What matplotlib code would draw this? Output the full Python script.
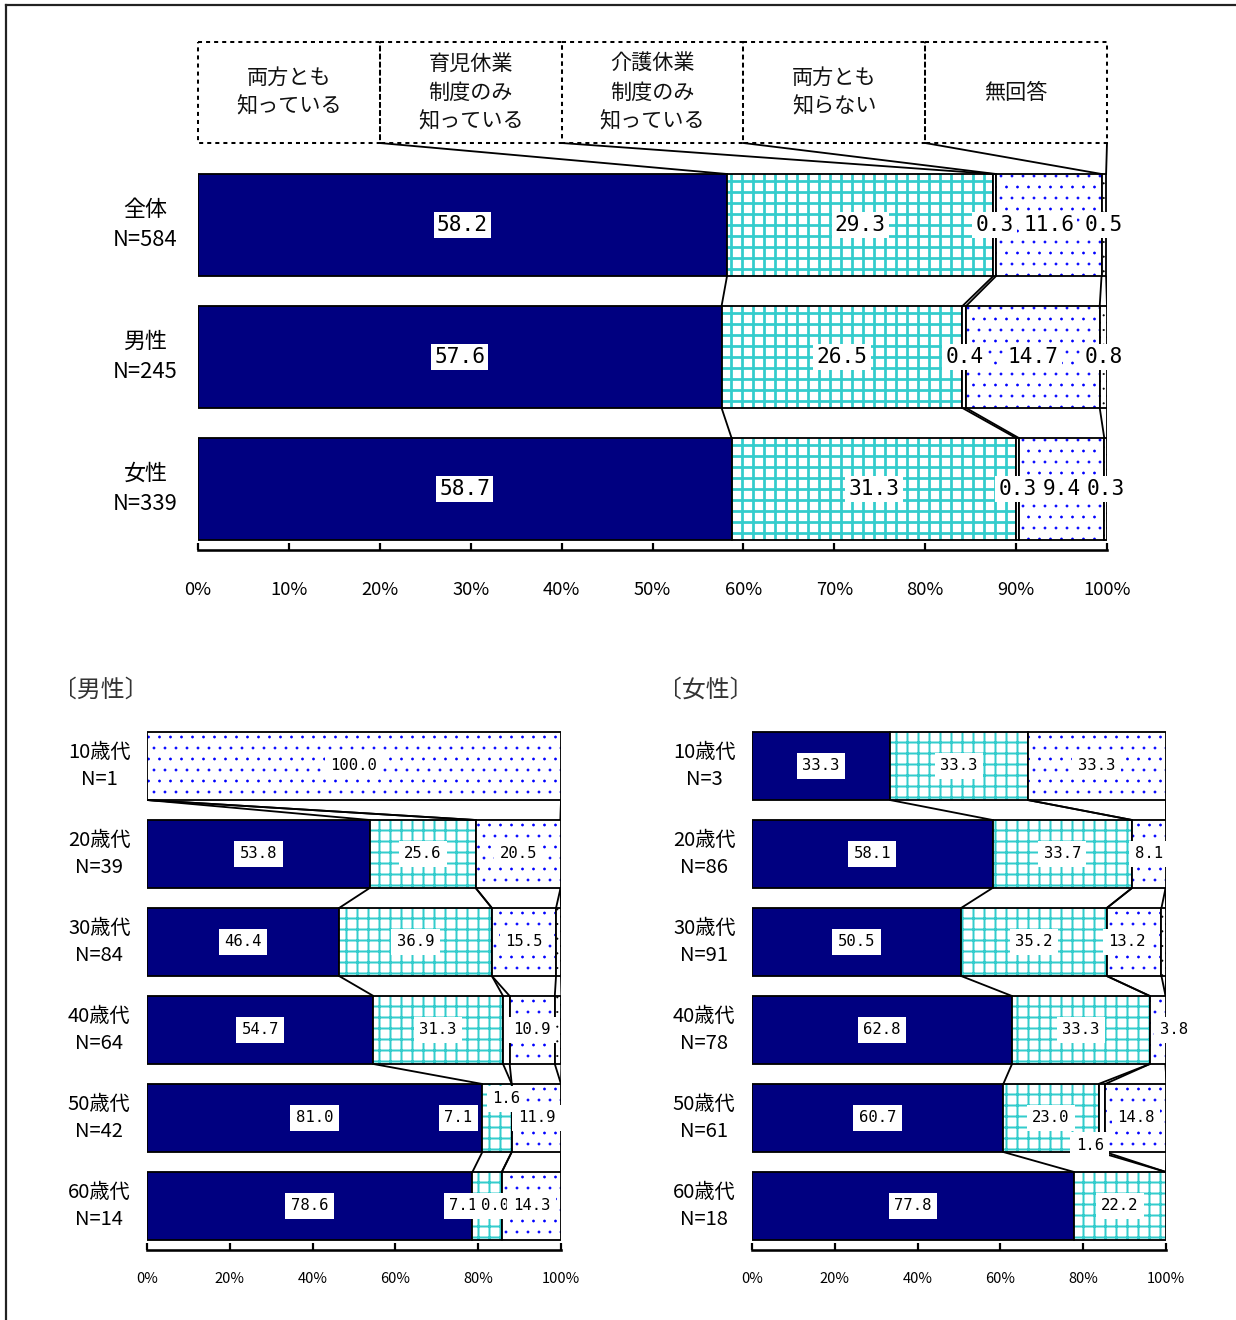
import matplotlib

matplotlib.use("Agg")
import matplotlib.pyplot as plt
import numpy as np
from matplotlib.lines import Line2D
from matplotlib.patches import Rectangle

plt.rcParams["font.family"] = ["Noto Sans CJK JP", "DejaVu Sans"]

# answer categories (left to right in each bar)
CATEGORIES = [
    "両方とも\n知っている",
    "育児休業\n制度のみ\n知っている",
    "介護休業\n制度のみ\n知っている",
    "両方とも\n知らない",
    "無回答",
]

TOTAL_ROWS = ["全体\nN=584", "男性\nN=245", "女性\nN=339"]
TOTAL_VALUES = [
    [58.2, 29.3, 0.3, 11.6, 0.5],
    [57.6, 26.5, 0.4, 14.7, 0.8],
    [58.7, 31.3, 0.3, 9.4, 0.3],
]

MALE_ROWS = ["10歳代\nN=1", "20歳代\nN=39", "30歳代\nN=84",
             "40歳代\nN=64", "50歳代\nN=42", "60歳代\nN=14"]
MALE_VALUES = [
    [0.0, 0.0, 0.0, 100.0, 0.0],
    [53.8, 25.6, 0.0, 20.5, 0.0],
    [46.4, 36.9, 0.0, 15.5, 1.2],
    [54.7, 31.3, 1.6, 10.9, 1.6],
    [81.0, 7.1, 0.0, 11.9, 0.0],
    [78.6, 7.1, 0.0, 14.3, 0.0],
]

FEMALE_ROWS = ["10歳代\nN=3", "20歳代\nN=86", "30歳代\nN=91",
               "40歳代\nN=78", "50歳代\nN=61", "60歳代\nN=18"]
FEMALE_VALUES = [
    [33.3, 33.3, 0.0, 33.3, 0.0],
    [58.1, 33.7, 0.0, 8.1, 0.0],
    [50.5, 35.2, 0.0, 13.2, 1.1],
    [62.8, 33.3, 0.0, 3.8, 0.0],
    [60.7, 23.0, 1.6, 14.8, 0.0],
    [77.8, 22.2, 0.0, 0.0, 0.0],
]

# fill style per category: face colour, hatch, hatch colour
SEG_STYLE = [
    ("#000080", None, None),
    ("white", "++", "#33CCCC"),
    ("white", None, None),
    ("white", "..", "#0000FF"),
    ("white", "...", "black"),
]

W, H, DPI = 1236, 1320, 132
MONO = "DejaVu Sans Mono"


def hatched_bar(ax, y, width, left, height, hatch, hcolor, hlw):
    bars = ax.barh(y, width, left=left, height=height, color="white",
                   edgecolor=hcolor, linewidth=0, hatch=hatch)
    for b in bars:
        if hasattr(b, "set_hatch_linewidth"):
            b.set_hatch_linewidth(hlw)


def draw_panel(ax, rows, values, bar_h, label_size, ytick_size, ypad,
               hlw=1.2, shown_zero=(), hidden=(), offsets=None, box_pad=0.2,
               ylinespacing=1.4):
    offsets = offsets or {}
    values = np.array(values)
    cums = np.cumsum(values, axis=1)
    for i, row in enumerate(values):
        lefts = cums[i] - row
        for k, v in enumerate(row):
            if v <= 0:
                continue
            face, hatch, hcolor = SEG_STYLE[k]
            if hatch:
                hatched_bar(ax, i, v, lefts[k], bar_h, hatch, hcolor,
                            hlw if k == 1 else 0.3)
            else:
                ax.barh(i, v, left=lefts[k], height=bar_h, color=face,
                        linewidth=0)
            ax.barh(i, v, left=lefts[k], height=bar_h, fill=False,
                    edgecolor="black", linewidth=1.0)

    # series lines joining segment boundaries of neighbouring bars
    for i in range(len(values) - 1):
        for k in range(5):
            ax.plot([cums[i, k], cums[i + 1, k]],
                    [i + bar_h / 2, i + 1 - bar_h / 2],
                    color="black", linewidth=1.0, solid_capstyle="butt")

    # value labels
    for i, row in enumerate(values):
        lefts = cums[i] - row
        for k, v in enumerate(row):
            if (v <= 0 and (i, k) not in shown_zero) or (i, k) in hidden:
                continue
            dx, dy = offsets.get((i, k), (0, 0))
            ax.text(lefts[k] + v / 2 + dx, i + dy, f"{v:.1f}",
                    ha="center", va="center", fontsize=label_size,
                    family=MONO, color="black", zorder=5,
                    bbox=dict(boxstyle=f"square,pad={box_pad}", fc="white",
                              ec="none"))

    ax.set_xlim(0, 100)
    ax.set_yticks(range(len(rows)))
    ax.set_yticklabels(rows, fontsize=ytick_size, multialignment="center",
                       linespacing=ylinespacing, va="center")
    ax.tick_params(axis="y", length=0, pad=ypad)
    for side in ("top", "right", "left"):
        ax.spines[side].set_visible(False)
    ax.spines["bottom"].set_linewidth(1.4)
    ax.tick_params(axis="x", direction="in", length=4, width=1.2)


def main() -> None:
    fig = plt.figure(figsize=(W / DPI, H / DPI), dpi=DPI)

    # outer frame
    fx, fy = 6 / W, 1 - 5 / H
    fig.add_artist(Line2D([fx, fx], [0, fy], transform=fig.transFigure,
                          color="#222222", linewidth=1.2))
    fig.add_artist(Line2D([fx, 1], [fy, fy], transform=fig.transFigure,
                          color="#222222", linewidth=1.2))

    # --- overall chart ---
    ax = fig.add_axes([198 / W, 1 - 550 / H, 909 / W, 390 / H])
    bar_h = 102 / 132
    draw_panel(ax, TOTAL_ROWS, TOTAL_VALUES, bar_h, label_size=11.5,
               ytick_size=12, ypad=11, hlw=1.5, box_pad=0.15,
               ylinespacing=1.5)
    ax.set_ylim(2 + 61 / 132, -65 / 132)
    ax.set_xticks(range(0, 101, 10))
    ax.set_xticklabels([f"{t}%" for t in range(0, 101, 10)], fontsize=10)
    ax.tick_params(axis="x", pad=17)

    # category boxes above the bars with leader lines
    box_top, box_bot = -183 / 132, -82 / 132
    cum0 = np.cumsum(TOTAL_VALUES[0])
    for k, name in enumerate(CATEGORIES):
        x0 = 20 * k
        ax.add_patch(Rectangle((x0, box_top), 20, box_bot - box_top,
                               fill=False, edgecolor="black", linewidth=1.1,
                               linestyle=(0, (2, 2)), clip_on=False))
        ax.text(x0 + 10, (box_top + box_bot) / 2, name, ha="center",
                va="center", fontsize=11.5, linespacing=1.4, clip_on=False,
                color="#111111")
        ax.plot([x0 + 20, cum0[k]], [box_bot, -bar_h / 2], color="black",
                linewidth=1.0, clip_on=False)

    # --- age group charts ---
    for left_px, title, rows, vals, kw in (
        (147, "〔男性〕", MALE_ROWS, MALE_VALUES,
         dict(shown_zero={(5, 2)}, hidden={(2, 4), (3, 4)},
              offsets={(3, 2): (0, 0.78), (4, 1): (-9.4, 0),
                       (5, 1): (-5.8, 0), (5, 2): (-1.7, 0)})),
        (752, "〔女性〕", FEMALE_ROWS, FEMALE_VALUES,
         dict(hidden={(2, 4)},
              offsets={(3, 3): (3.9, 0), (4, 2): (-2.9, 0.31),
                       (2, 3): (-1.7, 0)})),
    ):
        axb = fig.add_axes([left_px / W, 1 - 1250 / H, 414 / W, 528 / H])
        draw_panel(axb, rows, vals, 68 / 88, label_size=8.5, ytick_size=11,
                   ypad=9, hlw=1.1, box_pad=0.35, ylinespacing=1.4, **kw)
        axb.set_ylim(5.5, -0.5)
        axb.set_xticks(range(0, 101, 20))
        axb.set_xticklabels([f"{t}%" for t in range(0, 101, 20)],
                            fontsize=8)
        axb.tick_params(axis="x", pad=12)
        fig.text((left_px - 94) / W, 1 - 690 / H, title, fontsize=13,
                 ha="left", va="center", color="#333333")

    fig.savefig("out.png", dpi=DPI)
    plt.close(fig)


if __name__ == "__main__":
    main()
